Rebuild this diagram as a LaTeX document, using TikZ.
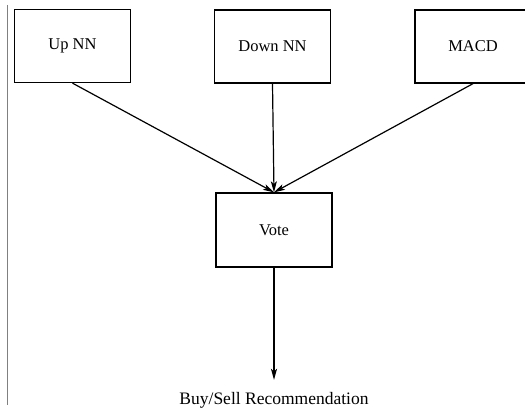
\documentclass[tikz,border=0pt]{standalone}
\usepackage{fontspec}
\setmainfont{Liberation Serif}
\usetikzlibrary{arrows.meta}

\begin{document}
\begin{tikzpicture}[x=1pt,y=-1pt,
    box/.style={draw,line width=1.3pt,minimum width=116pt,minimum height=73pt,inner sep=0pt,font=\fontsize{16.5}{19}\selectfont},
    feed/.style={line width=1.2pt,-{Stealth[length=11pt,width=6pt,inset=2.5pt]}}]
    \useasboundingbox (0,0) rectangle (525,411);
    \clip (0,0) rectangle (525,411);
    \draw[gray,line width=0.8pt] (7,5) -- (7,405);
    \node[box] (upnn) at (72.5,46) {Up NN};
    \node[box] (downnn) at (272.5,46.5) {Down NN};
    \node[box] (macd) at (473,46.5) {MACD};
    \node[box,minimum height=74pt] (vote) at (274,230) {Vote};
    \node[inner sep=0pt,font=\fontsize{17.5}{20}\selectfont] (rec) at (274,400) {Buy/Sell Recommendation};
    \draw[feed] (upnn.south) -- (vote.north);
    \draw[feed] (downnn.south) -- (vote.north);
    \draw[feed] (macd.south) -- (vote.north);
    \draw[feed,shorten >=12pt] (vote.south) -- (rec.north);
  \end{tikzpicture}
\end{document}
